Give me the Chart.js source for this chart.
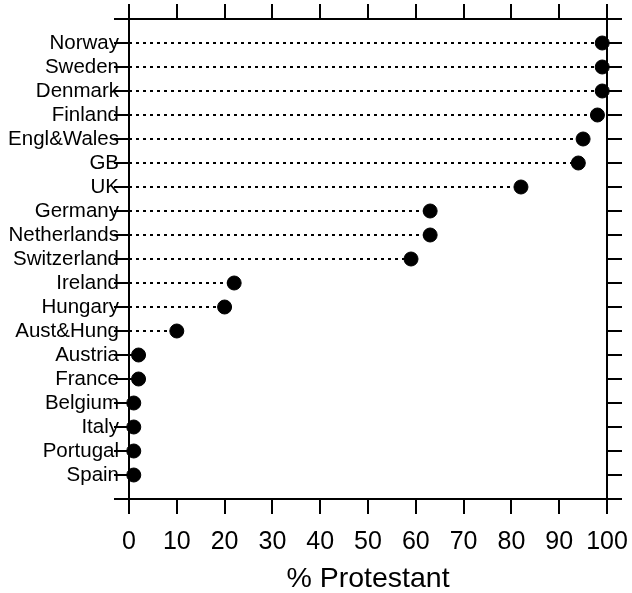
<!DOCTYPE html>
<html>
<head>
<meta charset="utf-8">
<script src="https://cdn.jsdelivr.net/npm/chart.js@4"></script>
<style>
  html, body { margin: 0; padding: 0; background: #fff; }
  canvas { display: block; }
</style>
</head>
<body>
<canvas id="dotChart" width="632" height="593"></canvas>
<script>
// data
var countries = ['Norway', 'Sweden', 'Denmark', 'Finland', 'Engl&Wales', 'GB', 'UK',
  'Germany', 'Netherlands', 'Switzerland', 'Ireland', 'Hungary', 'Aust&Hung',
  'Austria', 'France', 'Belgium', 'Italy', 'Portugal', 'Spain'];
var protestant = [99, 99, 99, 98, 95, 94, 82, 63, 63, 59, 22, 20, 10, 2, 2, 1, 1, 1, 1];
var xTicks = [0, 10, 20, 30, 40, 50, 60, 70, 80, 90, 100];
var xTitle = '% Protestant';

document.addEventListener('DOMContentLoaded', function() {
  var ctx = document.getElementById('dotChart').getContext('2d');
  Chart.defaults.color = '#000';
  Chart.defaults.font.family = '"Liberation Sans", Arial, Helvetica, sans-serif';

  // dots
  var dots = countries.map(function(c, i) {
    return { x: protestant[i], y: i };
  });

  // dotted guide lines from 0 to the value, broken between rows
  var guides = [];
  countries.forEach(function(c, i) {
    guides.push({ x: 0, y: i });
    guides.push({ x: protestant[i], y: i });
    guides.push({ x: null, y: null });
  });

  var grid = {
    drawOnChartArea: false,
    color: '#000',
    lineWidth: 2,
    tickLength: 15,
    tickWidth: 2
  };
  var border = { display: true, color: '#000', width: 2 };

  // keep the plot box where the reference has it (no auto padding from labels)
  function noPad(scale) {
    scale.paddingLeft = 0;
    scale.paddingRight = 0;
    scale.paddingTop = 0;
    scale.paddingBottom = 0;
  }

  new Chart(ctx, {
    type: 'scatter',
    data: {
      datasets: [{
        data: dots,
        backgroundColor: '#000',
        borderColor: '#000',
        pointRadius: 7,
        pointHoverRadius: 7,
        clip: false
      }, {
        data: guides,
        showLine: true,
        spanGaps: false,
        borderColor: '#000',
        borderWidth: 2,
        borderDash: [3, 4],
        pointRadius: 0,
        clip: false
      }]
    },
    options: {
      responsive: false,
      animation: false,
      events: [],
      layout: { padding: 0, autoPadding: false },
      plugins: { legend: { display: false }, tooltip: { enabled: false } },
      scales: {
        x: {
          type: 'linear',
          position: 'bottom',
          min: 0,
          max: 100,
          afterBuildTicks: function(scale) {
            scale.ticks = xTicks.map(function(v) { return { value: v }; });
          },
          ticks: { padding: 13, font: { size: 25 }, maxRotation: 0 },
          grid: grid,
          border: border,
          title: { display: true, text: xTitle, font: { size: 28.5 }, padding: { top: 0, bottom: -3 } },
          afterFit: function(scale) { scale.height = 94; noPad(scale); }
        },
        xTop: {
          type: 'linear',
          position: 'top',
          min: 0,
          max: 100,
          afterBuildTicks: function(scale) {
            scale.ticks = xTicks.map(function(v) { return { value: v }; });
          },
          ticks: { display: false },
          grid: grid,
          border: border,
          afterFit: function(scale) { scale.height = 19; noPad(scale); }
        },
        y: {
          type: 'linear',
          position: 'left',
          reverse: true,
          min: -1,
          max: countries.length,
          ticks: {
            stepSize: 1,
            autoSkip: false,
            padding: -5,
            font: { size: 20.5 },
            callback: function(v) { return countries[v] || ''; }
          },
          grid: grid,
          border: border,
          afterFit: function(scale) { scale.width = 129; noPad(scale); }
        },
        yRight: {
          type: 'linear',
          position: 'right',
          reverse: true,
          min: -1,
          max: countries.length,
          ticks: { stepSize: 1, autoSkip: false, display: false },
          grid: grid,
          border: border,
          afterFit: function(scale) { scale.width = 25; noPad(scale); }
        }
      }
    }
  });
});
</script>
</body>
</html>
